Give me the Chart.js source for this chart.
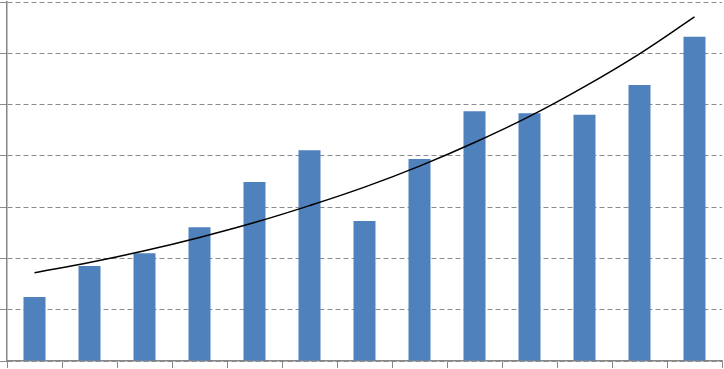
<!DOCTYPE html>
<html>
<head>
<meta charset="utf-8">
<script src="https://cdn.jsdelivr.net/npm/chart.js@4/dist/chart.umd.min.js"></script>
<style>
  html, body { margin: 0; padding: 0; background: #fff; }
  #wrap { width: 724px; height: 369px; }
</style>
</head>
<body>
<div id="wrap"><canvas id="barChart"></canvas></div>
<script>
// values
const categories = ["1", "2", "3", "4", "5", "6", "7", "8", "9", "10", "11", "12", "13"];
const barValues = [1.25, 1.85, 2.10, 2.61, 3.49, 4.11, 2.73, 3.94, 4.87, 4.83, 4.80, 5.38, 6.32];
const trendValues = [1.72, 1.92, 2.15, 2.41, 2.70, 3.03, 3.39, 3.80, 4.26, 4.77, 5.35, 5.99, 6.71];

let ctx = document.getElementById("barChart").getContext("2d");

let myChart = new Chart(ctx, {
    type: 'bar',
    data: {
        labels: categories,
        datasets: [{
            type: 'line',
            data: trendValues,
            borderColor: "#000000",
            borderWidth: 1.5,
            pointRadius: 0,
            tension: 0.4,
            fill: false,
            order: 0
        }, {
            data: barValues,
            backgroundColor: "#4F81BD",
            barPercentage: 0.4,
            categoryPercentage: 1.0,
            order: 1
        }]
    },
    options: {
        responsive: true,
        maintainAspectRatio: false,
        animation: false,
        layout: { padding: { top: 2, right: 2, bottom: 1, left: 0 } },
        plugins: {
            legend: { display: false },
            tooltip: { enabled: false }
        },
        scales: {
            x: {
                grid: { offset: true, drawOnChartArea: false, tickLength: 7, color: "#868686", lineWidth: 1 },
                border: { color: "#868686", width: 1.5 },
                ticks: { display: false }
            },
            y: {
                min: 0,
                max: 7,
                ticks: { display: false, stepSize: 1 },
                grid: { tickLength: 7, color: "#8c8c8c", lineWidth: 1 },
                border: { color: "#868686", width: 1.5, dash: [5, 3] }
            }
        }
    }
});
</script>
</body>
</html>
